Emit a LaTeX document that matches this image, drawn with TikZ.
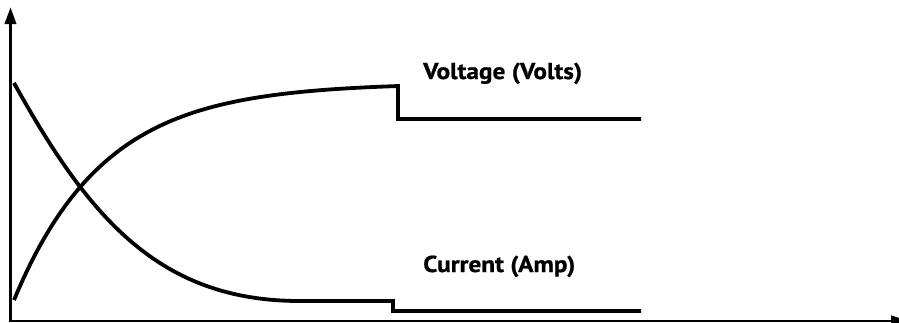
\documentclass[tikz,border=0pt]{standalone}
\usepackage{fontspec}
\setmainfont{PT Sans}[FakeStretch=1.1, BoldFeatures={FakeBold=0.8}]
\usetikzlibrary{arrows.meta}
\tikzset{
  axisline/.style={draw=black},
  curve/.style={draw=black, line width=3.8pt, line join=miter},
  lbl/.style={font=\bfseries\fontsize{23}{25}\selectfont, anchor=base west, inner sep=0pt}
}
\begin{document}
\begin{tikzpicture}[x=1pt,y=-1pt]
\useasboundingbox (0,0) rectangle (899,322);
% axes
\coordinate (origin) at (10.5,322);
\coordinate (ytop) at (10.5,7);
\coordinate (xstart) at (10.5,321);
\coordinate (xend) at (908,321);
\draw[axisline, line width=3.5pt, -{Triangle[length=17pt,width=11pt]}] (origin) -- (ytop);
\draw[axisline, line width=1.8pt, -{Triangle[length=17pt,width=11pt]}] (xstart) -- (xend);
% voltage
\draw[curve] plot[domain=14:398, samples=120] (\x, {83+217*exp(-(\x-14)/90)})
  -- (398,84) -- (398,119) -- (641,119);
% current
\coordinate (c0) at (14,83);
\draw[curve] (c0) .. controls (89.5,219) and (160,301) .. (300,301)
  -- (393,301) -- (393,311) -- (641,311);
% labels
\node[lbl] (vlabel) at (423,79) {Voltage (Volts)};
\node[lbl] (clabel) at (423,272) {Current (Amp)};
\end{tikzpicture}
\end{document}
